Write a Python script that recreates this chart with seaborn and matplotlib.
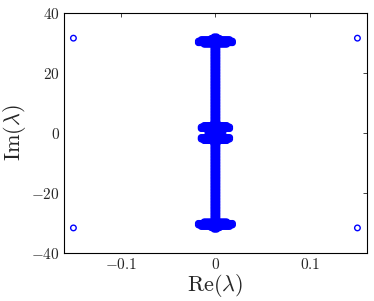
import numpy as np
import pandas as pd
import matplotlib
matplotlib.use("Agg")
import matplotlib.pyplot as plt
import seaborn as sns

corner_re = [-0.15, 0.15, -0.15, 0.15]
corner_im = [31.6, 31.6, -31.6, -31.6]

# dense vertical column of eigenvalues near Re = 0
column_im = [-30, -29.5, -29, -28.5, -28, -27.5, -27, -26.5, -26, -25.5, -25, -24.5,
             -24, -23.5, -23, -22.5, -22, -21.5, -21, -20.5, -20, -19.5, -19, -18.5,
             -18, -17.5, -17, -16.5, -16, -15.5, -15, -14.5, -14, -13.5, -13, -12.5,
             -12, -11.5, -11, -10.5, -10, -9.5, -9, -8.5, -8, -7.5, -7, -6.5, -6, -5.5,
             -5, -4.5, -4, -3.5, -3, -2.5, -2, -1.5, -1, -0.5, 0, 0.5, 1, 1.5, 2, 2.5,
             3, 3.5, 4, 4.5, 5, 5.5, 6, 6.5, 7, 7.5, 8, 8.5, 9, 9.5, 10, 10.5, 11, 11.5,
             12, 12.5, 13, 13.5, 14, 14.5, 15, 15.5, 16, 16.5, 17, 17.5, 18, 18.5, 19,
             19.5, 20, 20.5, 21, 21.5, 22, 22.5, 23, 23.5, 24, 24.5, 25, 25.5, 26, 26.5,
             27, 27.5, 28, 28.5, 29, 29.5, 30]
column_re = [-0.0015, 0.0, 0.0015]

# clusters: rows of (imag part, half width in real part)
blob_re = [-0.018, -0.0165, -0.015, -0.0135, -0.012, -0.0105, -0.009, -0.0075, -0.006,
           -0.0045, -0.003, -0.0015, 0.0, 0.0015, 0.003, 0.0045, 0.006, 0.0075, 0.009,
           0.0105, 0.012, 0.0135, 0.015, 0.0165, 0.018]
outer_rows_im = [29.6, 30.1, 30.6, 31.1, 31.5, 32.0]
outer_rows_hw = [0.012, 0.018, 0.018, 0.015, 0.005, 0.002]
inner_rows_im = [1.0, 1.5, 2.0, 2.5, 2.9, 3.2]
inner_rows_hw = [0.009, 0.016, 0.016, 0.012, 0.004, 0.002]

re_all = list(corner_re)
im_all = list(corner_im)
for r in column_re:
    re_all += [r] * len(column_im)
    im_all += column_im
for rows_im, rows_hw in [(outer_rows_im, outer_rows_hw), (inner_rows_im, inner_rows_hw)]:
    for y, hw in zip(rows_im, rows_hw):
        xs = [x for x in blob_re if abs(x) <= hw + 1e-9]
        for sign in (1, -1):
            re_all += xs
            im_all += [sign * y] * len(xs)

df = pd.DataFrame({"re": re_all, "im": im_all})

xticks = [-0.1, 0, 0.1]
xtick_labels = [r"$-0.1$", r"$0$", r"$0.1$"]
yticks = [-40, -20, 0, 20, 40]
ytick_labels = [r"$-40$", r"$-20$", r"$0$", r"$20$", r"$40$"]

sns.set_style("white")
plt.rcParams["font.family"] = ["DejaVu Serif"]
plt.rcParams["mathtext.fontset"] = "cm"

fig = plt.figure(figsize=(3.74, 3.01), dpi=100)
ax = fig.add_axes([0.171, 0.159, 0.81, 0.798])

sns.scatterplot(data=df, x="re", y="im", ax=ax, marker="o",
                facecolor="none", edgecolor="#0000ff", linewidth=1.0, s=16)

ax.set_xlim(-0.16, 0.16)
ax.set_ylim(-40, 40)
ax.set_xticks(xticks)
ax.set_xticklabels(xtick_labels, fontsize=11)
ax.set_yticks(yticks)
ax.set_yticklabels(ytick_labels, fontsize=11)
ax.tick_params(direction="in", length=3, width=0.6, top=True, right=True, pad=3)
for sp in ax.spines.values():
    sp.set_linewidth(0.8)
    sp.set_color("black")

ax.set_xlabel(r"$\mathrm{Re}(\lambda)$", fontsize=16, labelpad=0)
ax.set_ylabel(r"$\mathrm{Im}(\lambda)$", fontsize=16, labelpad=2)

fig.savefig("out.png", dpi=100)
